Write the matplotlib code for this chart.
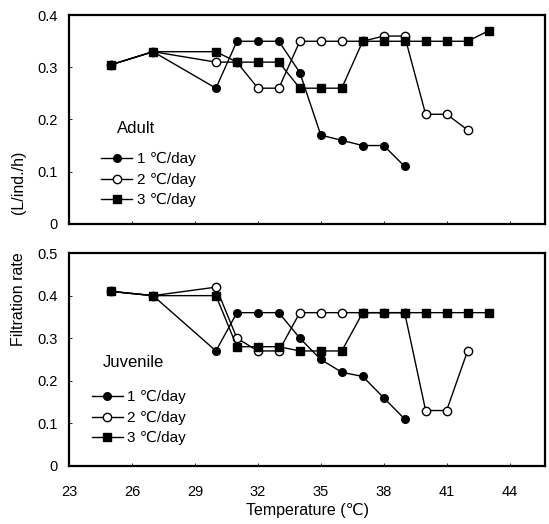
import matplotlib
matplotlib.use("Agg")
import matplotlib.pyplot as plt

plt.rcParams['font.family'] = ['Liberation Sans', 'DejaVu Sans']

temp = [25, 27, 30, 31, 32, 33, 34, 35, 36, 37, 38, 39, 40, 41, 42, 43]

# adult filtration rate (L/ind./h)
adult_1 = [0.305, 0.33, 0.26, 0.35, 0.35, 0.35, 0.29, 0.17, 0.16, 0.15, 0.15, 0.11]
adult_2 = [0.305, 0.33, 0.31, 0.31, 0.26, 0.26, 0.35, 0.35, 0.35, 0.35, 0.36, 0.36, 0.21, 0.21, 0.18]
adult_3 = [0.305, 0.33, 0.33, 0.31, 0.31, 0.31, 0.26, 0.26, 0.26, 0.35, 0.35, 0.35, 0.35, 0.35, 0.35, 0.37]

# juvenile filtration rate (L/ind./h)
juv_1 = [0.41, 0.40, 0.27, 0.36, 0.36, 0.36, 0.30, 0.25, 0.22, 0.21, 0.16, 0.11]
juv_2 = [0.41, 0.40, 0.42, 0.30, 0.27, 0.27, 0.36, 0.36, 0.36, 0.36, 0.36, 0.36, 0.13, 0.13, 0.27]
juv_3 = [0.41, 0.40, 0.40, 0.28, 0.28, 0.28, 0.27, 0.27, 0.27, 0.36, 0.36, 0.36, 0.36, 0.36, 0.36, 0.36]

rates = ["1 \u2103/day", "2 \u2103/day", "3 \u2103/day"]
xticks = [23, 26, 29, 32, 35, 38, 41, 44]

fig = plt.figure(figsize=(5.49, 5.24), dpi=100)
ax1 = fig.add_axes([0.126, 0.573, 0.867, 0.398])
ax2 = fig.add_axes([0.126, 0.111, 0.867, 0.406])

styles = [dict(marker='o', mfc='black', ms=5.5),
          dict(marker='o', mfc='white', ms=6),
          dict(marker='s', mfc='black', ms=6)]


def panel(ax, series, title, ymax, yticks, ylabels, legpos, titlepos):
    handles = []
    for s, st, lab in zip(series, styles, rates):
        h, = ax.plot(temp[:len(s)], s, color='black', lw=1.0, mec='black',
                     mew=1.0, label=lab, **st)
        handles.append(h)
    ax.set_xlim(23, 45.7)
    ax.set_ylim(0, ymax)
    ax.set_yticks(yticks)
    ax.set_yticklabels(ylabels, fontsize=10.5)
    ax.set_xticks(xticks)
    ax.tick_params(direction='in', length=2, width=0.6, pad=8)
    for sp in ax.spines.values():
        sp.set_linewidth(1.6)
    ax.text(titlepos[0], titlepos[1], title, transform=ax.transAxes, fontsize=12)
    ax.legend(handles=handles, loc='upper left', bbox_to_anchor=legpos,
              frameon=False, fontsize=11, handlelength=2.0, handletextpad=0.3,
              labelspacing=0.42, borderaxespad=0)


panel(ax1, [adult_1, adult_2, adult_3], "Adult", 0.4,
      [0, 0.1, 0.2, 0.3, 0.4], ["0", "0.1", "0.2", "0.3", "0.4"],
      (0.055, 0.372), (0.1, 0.436))
panel(ax2, [juv_1, juv_2, juv_3], "Juvenile", 0.5,
      [0, 0.1, 0.2, 0.3, 0.4, 0.5], ["0", "0.1", "0.2", "0.3", "0.4", "0.5"],
      (0.035, 0.384), (0.07, 0.466))

ax1.set_xticklabels([])
ax2.set_xticklabels([str(t) for t in xticks], fontsize=10.5)
ax2.tick_params(axis='x', pad=14)
ax2.set_xlabel("Temperature (\u2103)", fontsize=11.5, labelpad=3)

# shared y label, split across the two panels
fig.text(0.034, 0.430, "Filtration rate", rotation=90,
         ha='center', va='center', fontsize=11.5)
fig.text(0.034, 0.653, "(L/ind./h)", rotation=90,
         ha='center', va='center', fontsize=11.5)

fig.savefig("out.png", dpi=100)
